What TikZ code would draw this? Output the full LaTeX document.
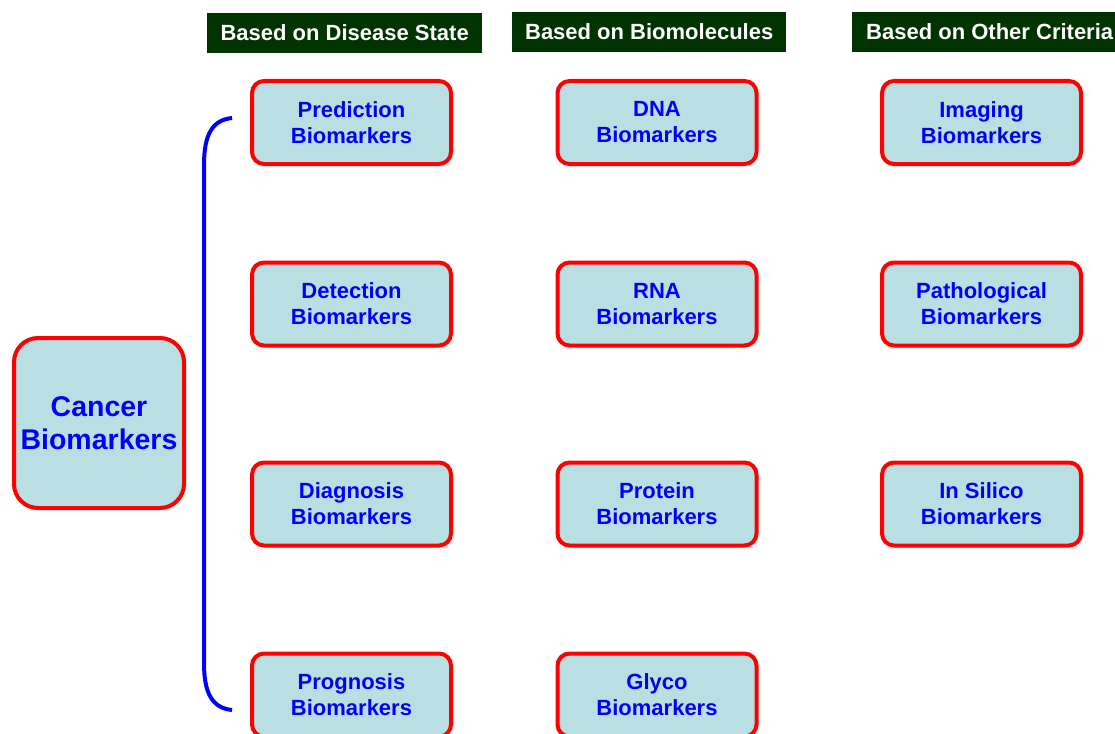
\documentclass[tikz,border=0pt]{standalone}
\usepackage{fontspec}
\setmainfont{Liberation Sans}
\begin{document}
\definecolor{hdrgreen}{HTML}{013301}
\definecolor{boxfill}{HTML}{B9DFE3}
\definecolor{txtblue}{HTML}{0000FF}
\begin{tikzpicture}[x=1pt,y=-1pt,
  hdr/.style={fill=hdrgreen,text=white,font=\bfseries\fontsize{22}{26}\selectfont,inner ysep=0pt,minimum height=40pt,anchor=west},
  bm/.style={draw=red,line width=4pt,fill=boxfill,rounded corners=12pt,minimum width=199pt,minimum height=83pt,text=txtblue,align=center,font=\bfseries\fontsize{22}{26}\selectfont,inner sep=0pt},
  big/.style={draw=red,line width=4pt,fill=boxfill,rounded corners=24pt,minimum width=170pt,minimum height=170pt,text=txtblue,align=center,font=\bfseries\fontsize{28.5}{33}\selectfont,inner sep=0pt},
  brk/.style={draw=blue,line width=4pt}]
\useasboundingbox (0,0) rectangle (1115,733);
\begin{scope}
\clip (0,0) rectangle (1115,733);
\node[hdr,inner xsep=0pt,minimum width=275pt] (h1) at (207,33) {Based on Disease State};
\node[hdr,inner xsep=0pt,minimum width=274pt] (h2) at (512,32) {Based on Biomolecules};
\node[hdr,inner xsep=14pt] (h3) at (852,32) {Based on Other Criteria};

\node[big] (cb) at (99,423) {Cancer\\Biomarkers};

\node[bm] (pred) at (351.5,122.5) {Prediction\\Biomarkers};
\node[bm] (det) at (351.5,304) {Detection\\Biomarkers};
\node[bm] (diag) at (351.5,504) {Diagnosis\\Biomarkers};
\node[bm] (prog) at (351.5,695) {Prognosis\\Biomarkers};

\node[bm] (dna) at (657,122.5) {DNA\\Biomarkers};
\node[bm] (rna) at (657,304) {RNA\\Biomarkers};
\node[bm] (prot) at (657,504) {Protein\\Biomarkers};
\node[bm] (gly) at (657,695) {Glyco\\Biomarkers};

\node[bm] (img) at (981.5,122.5) {Imaging\\Biomarkers};
\node[bm] (path) at (981.5,304) {Pathological\\Biomarkers};
\node[bm] (insil) at (981.5,504) {In Silico\\Biomarkers};

\coordinate (bt) at (232,118);
\coordinate (bb) at (232,710);
\draw[brk] (bt) .. controls (212,120) and (204,135) .. (204,165) -- (204,663) .. controls (204,693) and (212,708) .. (bb);
\end{scope}
\end{tikzpicture}
\end{document}
